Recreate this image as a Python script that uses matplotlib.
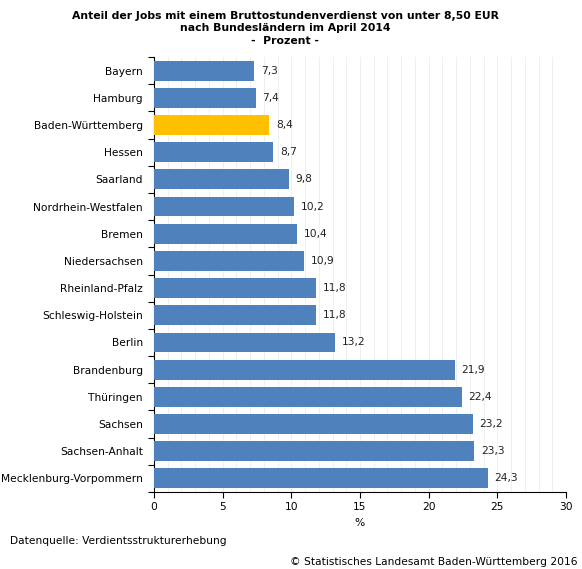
import numpy as np
import matplotlib.pyplot as plt

laender = ['Bayern', 'Hamburg', 'Baden-Württemberg', 'Hessen', 'Saarland',
           'Nordrhein-Westfalen', 'Bremen', 'Niedersachsen', 'Rheinland-Pfalz',
           'Schleswig-Holstein', 'Berlin', 'Brandenburg', 'Thüringen', 'Sachsen',
           'Sachsen-Anhalt', 'Mecklenburg-Vorpommern']
anteil = [7.3, 7.4, 8.4, 8.7, 9.8, 10.2, 10.4, 10.9, 11.8, 11.8, 13.2,
          21.9, 22.4, 23.2, 23.3, 24.3]
x_ticks = [0, 5, 10, 15, 20, 25, 30]

blau = '#4F81BD'
gelb = '#FFC000'
farben = [gelb if l == 'Baden-Württemberg' else blau for l in laender]

plt.rcParams['font.family'] = 'DejaVu Sans'
fig = plt.figure(figsize=(5.82, 5.69), dpi=100)
ax = fig.add_axes([0.2646, 0.1353, 0.7079, 0.7645])

y = np.arange(len(laender))
ax.barh(y, anteil, height=0.73, color=farben, zorder=3)
for yi, v in zip(y, anteil):
    ax.text(v + 0.5, yi, f'{v:.1f}'.replace('.', ','), va='center', ha='left',
            fontsize=7.7, color='#222222')

ax.set_ylim(len(laender) - 0.5, -0.5)
ax.set_xlim(0, 30)
ax.set_yticks(y)
ax.set_yticklabels(laender, fontsize=7.7)
ax.set_yticks(np.arange(-0.5, len(laender), 1), minor=True)
ax.tick_params(axis='y', which='major', length=0, pad=8)
ax.tick_params(axis='y', which='minor', length=4, width=0.8)
ax.set_xticks(x_ticks)
ax.set_xticks(np.arange(0, 31, 1), minor=True)
ax.tick_params(axis='x', which='major', labelsize=7.7, length=4, width=0.8)
ax.tick_params(axis='x', which='minor', length=0)
ax.grid(axis='x', which='both', color='#ececec', linewidth=0.6, zorder=0)
ax.set_xlabel('%', fontsize=7.7, labelpad=4)
for s in ['top', 'right']:
    ax.spines[s].set_visible(False)
for s in ['left', 'bottom']:
    ax.spines[s].set_linewidth(0.8)

fig.text(0.49, 0.981, 'Anteil der Jobs mit einem Bruttostundenverdienst von unter 8,50 EUR\n'
         'nach Bundesländern im April 2014\n-  Prozent -',
         ha='center', va='top', fontsize=7.8, fontweight='bold', linespacing=1.3)
fig.text(0.017, 0.05, 'Datenquelle: Verdientsstrukturerhebung', fontsize=7.7, va='center')
fig.text(0.993, 0.003, '© Statistisches Landesamt Baden-Württemberg 2016', fontsize=7.7,
         ha='right', va='bottom')

fig.savefig('out.png', dpi=100)
